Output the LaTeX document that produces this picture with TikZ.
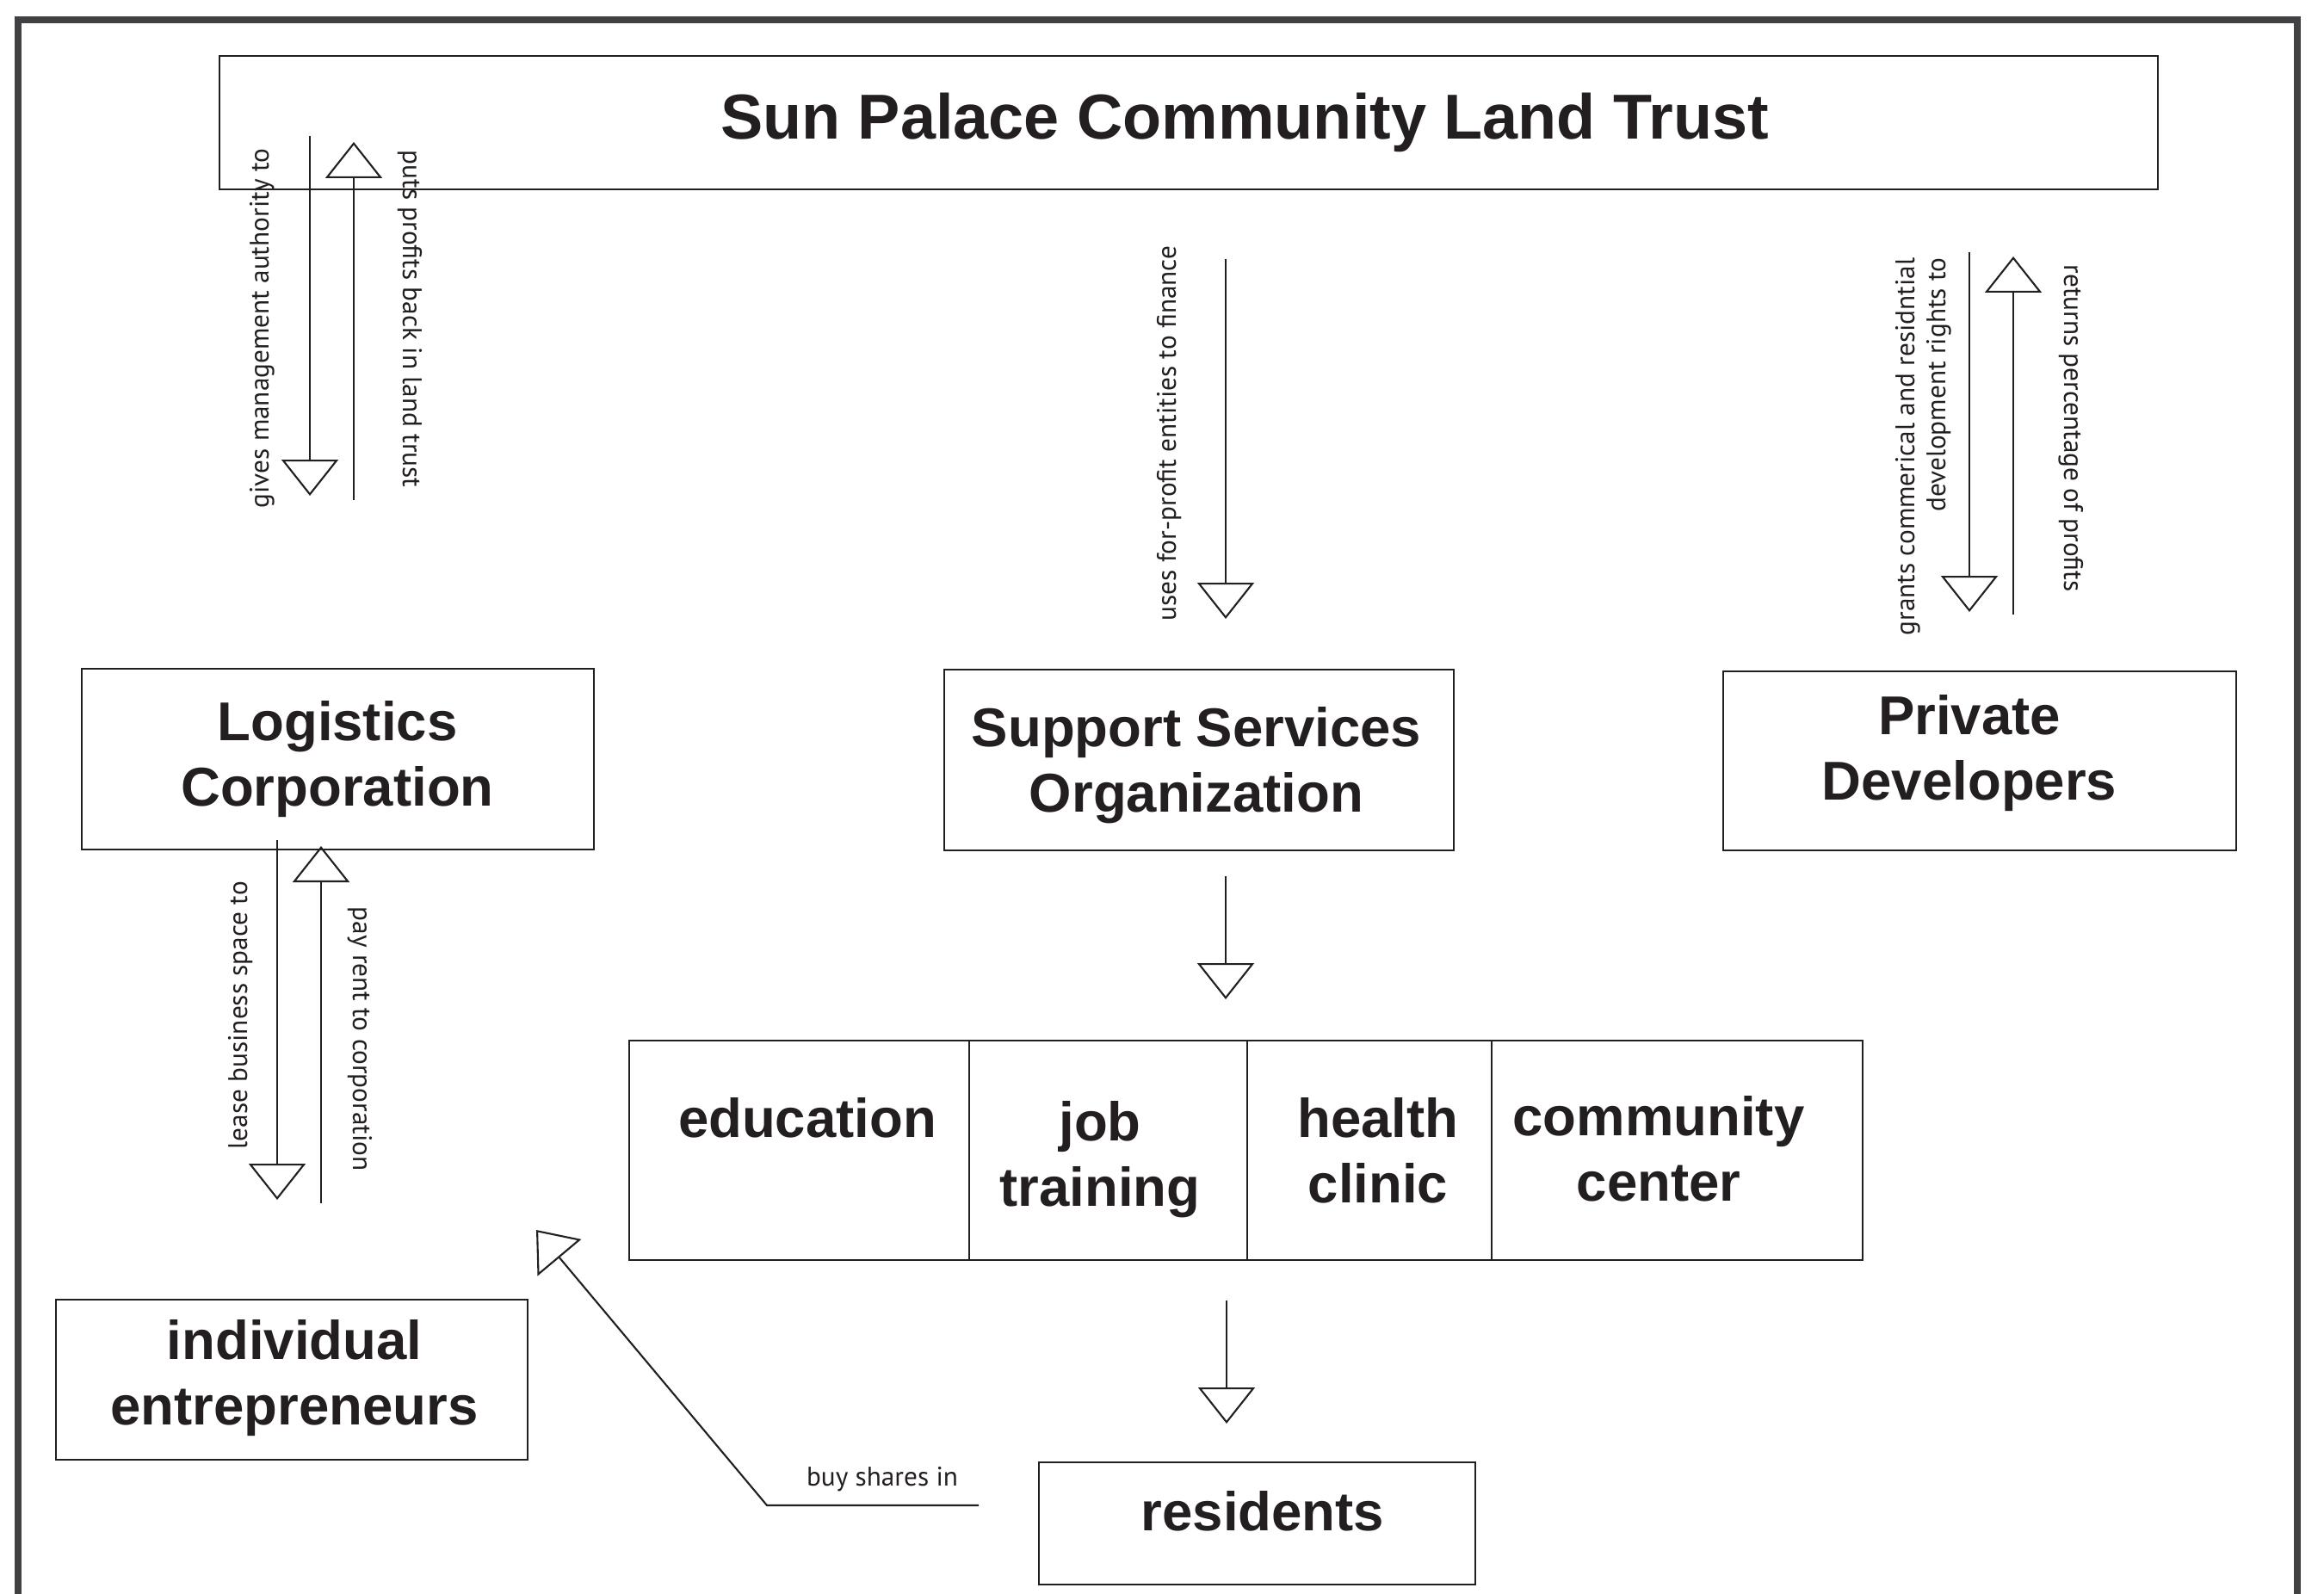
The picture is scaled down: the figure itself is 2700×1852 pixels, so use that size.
\documentclass[tikz,border=0pt]{standalone}
\usepackage{fontspec}
\setmainfont{Liberation Sans}
\newfontfamily\lblfont{PT Sans}
\usetikzlibrary{arrows.meta,fit}
\definecolor{ink}{HTML}{231F20}
\definecolor{framegrey}{HTML}{414042}
\begin{document}
\begin{tikzpicture}[x=0.1mm,y=-0.1mm,
  box/.style={draw=ink, line width=0.7pt, inner sep=0pt, rectangle},
  boxtext/.style={inner sep=0pt, anchor=base, text=ink, font=\fontsize{18.07}{21.9}\selectfont\bfseries},
  titletext/.style={inner sep=0pt, anchor=base, text=ink, font=\fontsize{21}{25}\selectfont\bfseries},
  lbl/.style={inner sep=0pt, text=ink, font=\lblfont\fontsize{8.9}{10.24}\selectfont},
  arr/.style={draw=ink, line width=0.6pt, -{Triangle[open, length=11.95pt, width=18.78pt]}},
  framestyle/.style={draw=framegrey, line width=2.28pt}
]
\useasboundingbox (0,0) rectangle (2700,1852);
\fill[white] (0,0) rectangle (2700,1852);

% outer frame
\draw[framestyle] (21,1852) -- (21,23.5) -- (2669,23.5) -- (2669,1852);

% boxes
\node[box, fit={(255,65) (2507,220)}] (trust) {};
\node[box, fit={(95,777) (690,987)}] (logi) {};
\node[box, fit={(1097,778) (1689,988)}] (sso) {};
\node[box, fit={(2002,780) (2598,988)}] (priv) {};
\node[box, fit={(731,1209) (1126,1464)}] (edu) {};
\node[box, fit={(1126,1209) (1449,1464)}] (job) {};
\node[box, fit={(1449,1209) (1733,1464)}] (health) {};
\node[box, fit={(1733,1209) (2164,1464)}] (comm) {};
\node[box, fit={(65,1510) (613,1696)}] (entr) {};
\node[box, fit={(1207,1699) (1714,1841)}] (res) {};

% box texts
\node[titletext] (trust-t) at (1446,162) {Sun Palace Community Land Trust};
\node[boxtext] (logi-t) at (392,860) {\begin{tabular}[t]{@{}c@{}}Logistics\\Corporation\end{tabular}};
\node[boxtext] (sso-t) at (1390,867) {\begin{tabular}[t]{@{}c@{}}Support Services\\Organization\end{tabular}};
\node[boxtext] (priv-t) at (2288,853) {\begin{tabular}[t]{@{}c@{}}Private\\Developers\end{tabular}};
\node[boxtext] (edu-t) at (938,1321) {education};
\node[boxtext] (job-t) at (1278,1325) {\begin{tabular}[t]{@{}c@{}}job\\training\end{tabular}};
\node[boxtext] (health-t) at (1601,1321) {\begin{tabular}[t]{@{}c@{}}health\\clinic\end{tabular}};
\node[boxtext] (comm-t) at (1927,1319) {\begin{tabular}[t]{@{}c@{}}community\\center\end{tabular}};
\node[boxtext] (entr-t) at (342,1579) {\begin{tabular}[t]{@{}c@{}}individual\\entrepreneurs\end{tabular}};
\node[boxtext] (res-t) at (1467,1778) {residents};

% connector end points
\coordinate (a1s) at (360,158);  \coordinate (a1e) at (360,576);
\coordinate (a2s) at (411,581);  \coordinate (a2e) at (411,165);
\coordinate (a3s) at (1424,301); \coordinate (a3e) at (1424,719);
\coordinate (a4s) at (2288,293); \coordinate (a4e) at (2288,711);
\coordinate (a5s) at (2339,714); \coordinate (a5e) at (2339,298);
\coordinate (a6s) at (322,976);  \coordinate (a6e) at (322,1394);
\coordinate (a7s) at (373,1398); \coordinate (a7e) at (373,983);
\coordinate (a8s) at (1424,1018); \coordinate (a8e) at (1424,1161);
\coordinate (a9s) at (1425,1511); \coordinate (a9e) at (1425,1654);
\coordinate (a10s) at (1137,1749); \coordinate (a10m) at (891,1749); \coordinate (a10e) at (623,1429);

% connectors
\draw[arr] (a1s) -- (a1e);
\draw[arr] (a2s) -- (a2e);
\draw[arr] (a3s) -- (a3e);
\draw[arr] (a4s) -- (a4e);
\draw[arr] (a5s) -- (a5e);
\draw[arr] (a6s) -- (a6e);
\draw[arr] (a7s) -- (a7e);
\draw[arr] (a8s) -- (a8e);
\draw[arr] (a9s) -- (a9e);
\draw[arr] (a10s) -- (a10m) -- (a10e);

% connector labels
\node[lbl, rotate=90, anchor=base west] (l1) at (312,591) {gives management authority to};
\node[lbl, rotate=-90, anchor=base west] (l2) at (468,174) {puts profits back in land trust};
\node[lbl, rotate=90, anchor=base west] (l3) at (1366,722) {uses for-profit entities to finance};
\node[lbl, rotate=90, anchor=base east] (l4) at (2224,299) {\begin{tabular}[t]{@{}r@{}}grants commerical and residntial\\development rights to\end{tabular}};
\node[lbl, rotate=-90, anchor=base west] (l5) at (2398,307) {returns percentage of profits};
\node[lbl, rotate=90, anchor=base west] (l6) at (287,1336) {lease business space to};
\node[lbl, rotate=-90, anchor=base west] (l7) at (410,1053) {pay rent to corporation};
\node[lbl, anchor=base] (l8) at (1025,1726) {buy shares in};
\end{tikzpicture}
\end{document}
